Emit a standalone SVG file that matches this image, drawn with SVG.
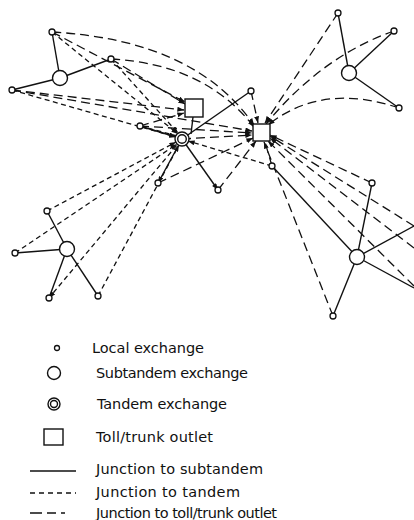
<svg xmlns="http://www.w3.org/2000/svg" width="414" height="520" viewBox="0 0 414 520">
<style>
.sub{stroke:#111;stroke-width:1.4;fill:none}
.tan{stroke:#111;stroke-width:1.3;fill:none;stroke-dasharray:5 3.5}
.toll{stroke:#111;stroke-width:1.3;fill:none;stroke-dasharray:9 5}
.loc{fill:#fff;stroke:#111;stroke-width:1.3}
.st{fill:#fff;stroke:#111;stroke-width:1.4}
.lab{font-family:"DejaVu Sans","Liberation Sans",sans-serif;font-size:14.5px;fill:#111}
</style>
<defs>
<marker id="ah" viewBox="0 0 8 6" refX="8" refY="3" markerWidth="7" markerHeight="5" orient="auto" markerUnits="userSpaceOnUse"><path d="M0,0 L8,3 L0,6 z" fill="#111"/></marker>
</defs>
<rect width="414" height="520" fill="#fff"/>
<g id="connectors">
<line class="sub" x1="60" y1="78" x2="52" y2="32"/>
<line class="sub" x1="60" y1="78" x2="111" y2="59"/>
<line class="sub" x1="60" y1="78" x2="12" y2="90"/>
<line class="sub" x1="349" y1="73" x2="338" y2="13"/>
<line class="sub" x1="349" y1="73" x2="394" y2="31"/>
<line class="sub" x1="349" y1="73" x2="399" y2="108"/>
<line class="sub" x1="67" y1="249" x2="47" y2="211"/>
<line class="sub" x1="67" y1="249" x2="15" y2="253"/>
<line class="sub" x1="67" y1="249" x2="49" y2="298"/>
<line class="sub" x1="67" y1="249" x2="98" y2="296"/>
<line class="sub" x1="357" y1="257" x2="372" y2="183"/>
<line class="sub" x1="357" y1="257" x2="333" y2="316"/>
<line class="sub" x1="357" y1="257" x2="272" y2="166"/>
<line class="sub" x1="357" y1="257" x2="414" y2="226"/>
<line class="sub" x1="357" y1="257" x2="414" y2="288"/>
<line class="sub" x1="193" y1="117" x2="191" y2="134"/>
<line class="sub" x1="140" y1="126" x2="176" y2="137" marker-end="url(#ah)"/>
<line class="sub" x1="182" y1="139" x2="251" y2="91"/>
<line class="sub" x1="182" y1="139" x2="218" y2="190" marker-end="url(#ah)"/>
<line class="sub" x1="182" y1="139" x2="158" y2="183" marker-end="url(#ah)"/>
<line class="tan" x1="52" y1="32" x2="178" y2="134" marker-end="url(#ah)"/>
<line class="tan" x1="111" y1="59" x2="178" y2="133" marker-end="url(#ah)"/>
<line class="tan" x1="12" y1="90" x2="176" y2="137" marker-end="url(#ah)"/>
<line class="tan" x1="47" y1="211" x2="176" y2="142" marker-end="url(#ah)"/>
<line class="tan" x1="15" y1="253" x2="177" y2="144" marker-end="url(#ah)"/>
<line class="tan" x1="182" y1="139" x2="49" y2="298" marker-end="url(#ah)"/>
<line class="tan" x1="98" y1="296" x2="179" y2="145" marker-end="url(#ah)"/>
<line class="tan" x1="272" y1="166" x2="188" y2="141" marker-end="url(#ah)"/>
<line class="tan" x1="140" y1="126" x2="177" y2="136"/>
<path class="toll" d="M52,32 Q195,40 254,125" marker-end="url(#ah)"/>
<line class="toll" x1="52" y1="32" x2="185" y2="102" marker-end="url(#ah)"/>
<path class="toll" d="M111,59 Q205,64 254,127" marker-end="url(#ah)"/>
<line class="toll" x1="111" y1="59" x2="185" y2="104" marker-end="url(#ah)"/>
<line class="toll" x1="12" y1="90" x2="184" y2="110" marker-end="url(#ah)"/>
<line class="toll" x1="12" y1="90" x2="252" y2="131" marker-end="url(#ah)"/>
<line class="toll" x1="140" y1="126" x2="184" y2="113" marker-end="url(#ah)"/>
<line class="toll" x1="140" y1="126" x2="252" y2="133" marker-end="url(#ah)"/>
<line class="toll" x1="182" y1="139" x2="252" y2="135" marker-end="url(#ah)"/>
<line class="toll" x1="338" y1="13" x2="265" y2="123" marker-end="url(#ah)"/>
<path class="toll" d="M394,31 Q322,56 266,124" marker-end="url(#ah)"/>
<path class="toll" d="M399,108 Q322,82 268,125" marker-end="url(#ah)"/>
<line class="toll" x1="251" y1="91" x2="258" y2="123" marker-end="url(#ah)"/>
<line class="toll" x1="158" y1="183" x2="253" y2="138" marker-end="url(#ah)"/>
<line class="toll" x1="218" y1="190" x2="256" y2="141" marker-end="url(#ah)"/>
<line class="toll" x1="372" y1="183" x2="270" y2="135" marker-end="url(#ah)"/>
<line class="toll" x1="414" y1="226" x2="270" y2="136" marker-end="url(#ah)"/>
<line class="toll" x1="414" y1="248" x2="270" y2="138" marker-end="url(#ah)"/>
<line class="toll" x1="414" y1="286" x2="268" y2="141" marker-end="url(#ah)"/>
<line class="toll" x1="333" y1="316" x2="264" y2="142" marker-end="url(#ah)"/>
<line class="toll" x1="272" y1="166" x2="265" y2="142"/>
</g>
<g id="toll1"><rect x="185" y="99" width="18" height="18" class="st"/></g>
<g id="toll2"><rect x="253" y="124" width="17" height="17" class="st"/></g>
<g id="tandem"><circle cx="182" cy="139" r="7" class="st"/><circle cx="182" cy="139" r="4.3" class="st"/></g>
<g id="sub1"><circle cx="60" cy="78" r="7.5" class="st"/></g>
<g id="sub2"><circle cx="349" cy="73" r="7.5" class="st"/></g>
<g id="sub3"><circle cx="67" cy="249" r="7.5" class="st"/></g>
<g id="sub4"><circle cx="357" cy="257" r="7.5" class="st"/></g>
<g id="locals">
<circle id="lA" cx="52" cy="32" r="3" class="loc"/>
<circle id="lB" cx="111" cy="59" r="3" class="loc"/>
<circle id="lC" cx="12" cy="90" r="3" class="loc"/>
<circle id="lD" cx="140" cy="126" r="3" class="loc"/>
<circle id="lE" cx="158" cy="183" r="3" class="loc"/>
<circle id="lF" cx="338" cy="13" r="3" class="loc"/>
<circle id="lG" cx="394" cy="31" r="3" class="loc"/>
<circle id="lH" cx="399" cy="108" r="3" class="loc"/>
<circle id="lI" cx="251" cy="91" r="3" class="loc"/>
<circle id="lJ" cx="272" cy="166" r="3" class="loc"/>
<circle id="lK" cx="218" cy="190" r="3" class="loc"/>
<circle id="lL" cx="372" cy="183" r="3" class="loc"/>
<circle id="lM" cx="47" cy="211" r="3" class="loc"/>
<circle id="lN" cx="15" cy="253" r="3" class="loc"/>
<circle id="lO" cx="49" cy="298" r="3" class="loc"/>
<circle id="lP" cx="98" cy="296" r="3" class="loc"/>
<circle id="lQ" cx="333" cy="316" r="3" class="loc"/>
</g>
<g id="legend">
<circle cx="57" cy="348" r="2.5" class="loc"/>
<text class="lab" x="92" y="353" textLength="112">Local exchange</text>
<circle cx="54" cy="373" r="6.5" class="st"/>
<text class="lab" x="96" y="378" textLength="152">Subtandem exchange</text>
<circle cx="54" cy="404" r="6" class="st"/><circle cx="54" cy="404" r="3.5" class="st"/>
<text class="lab" x="97" y="409" textLength="130">Tandem exchange</text>
<rect x="44" y="429" width="19" height="16" class="st"/>
<text class="lab" x="96" y="442" textLength="117">Toll/trunk outlet</text>
<line class="sub" x1="30" y1="471" x2="76" y2="471"/>
<text class="lab" x="96" y="474" textLength="167">Junction to subtandem</text>
<line class="sub" x1="30" y1="493" x2="76" y2="493" style="stroke-dasharray:5 4"/>
<text class="lab" x="96" y="497" textLength="144">Junction to tandem</text>
<line class="sub" x1="30" y1="513" x2="76" y2="513" style="stroke-dasharray:12 5 9 5 4"/>
<text class="lab" x="96" y="518" textLength="181">Junction to toll/trunk outlet</text>
</g>
</svg>
